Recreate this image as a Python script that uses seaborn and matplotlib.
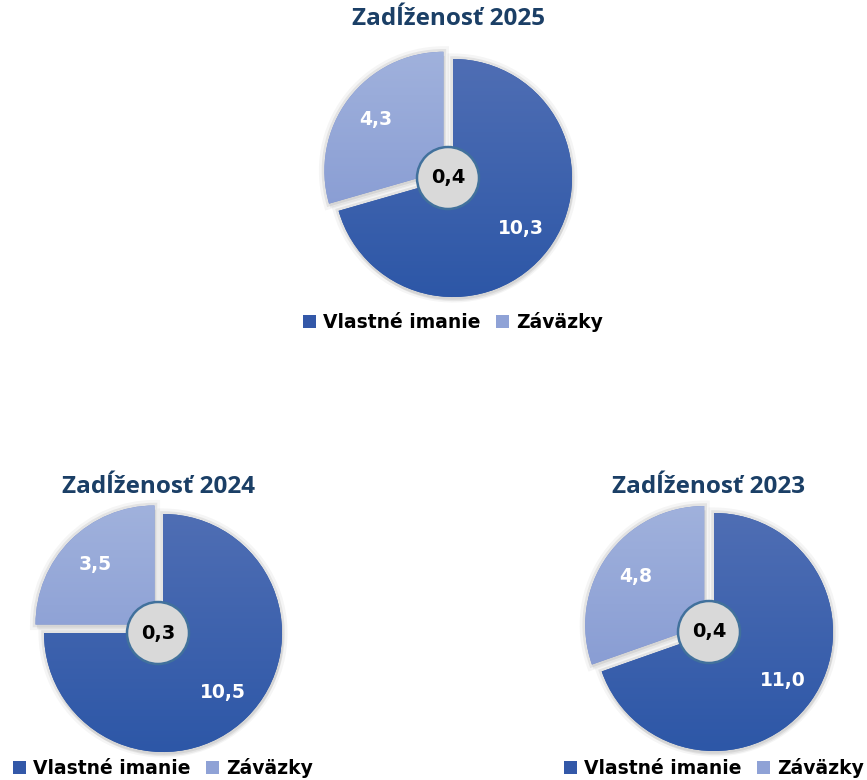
import numpy as np
import matplotlib
matplotlib.use("Agg")
import matplotlib.pyplot as plt
import matplotlib.patheffects as pe
from matplotlib.colors import LinearSegmentedColormap
from matplotlib.patches import Patch, Circle
import seaborn as sns

# ---- data ----
years = ["2025", "2024", "2023"]
equity = [10.3, 10.5, 11.0]
liabilities = [4.3, 3.5, 4.8]
categories = ["Vlastné imanie", "Záväzky"]
title_prefix = "Zadĺženosť"

# ---- style ----
sns.set_theme(style="white")
plt.rcParams["font.family"] = ["DejaVu Sans"]
plt.rcParams["text.color"] = "black"

W, H = 867, 780
fig = plt.figure(figsize=(W / 100, H / 100), dpi=100)
ax = fig.add_axes([0, 0, 1, 1])

dark_top, dark_bot = "#5270B5", "#2A55A6"
light_top, light_bot = "#A2B3DD", "#7A90CE"
legend_cols = ["#3358A8", "#8FA2D6"]
title_col = "#1B3F66"

R = 119
centers = [(453, 178), (163, 633), (714, 632)]
legend_y = [322, 768, 768]
title_y = [19, 487, 487]
explode_px = 12

def fmt(v):
    return f"{v:.1f}".replace(".", ",")

for yr, eq, li, (cxp, cyp), ly, ty in zip(years, equity, liabilities, centers,
                                          legend_y, title_y):
    cx, cy = cxp, H - cyp
    vals = [eq, li]
    total = sum(vals)
    wedges, texts, autotexts = ax.pie(
        vals, center=(cx, cy), radius=R, startangle=90, counterclock=False,
        explode=[0, explode_px], colors=[dark_bot, light_bot],
        autopct=lambda p, t=total: fmt(p * t / 100), pctdistance=0.71,
        textprops=dict(color="white", fontsize=13.5, fontweight="bold"),
        wedgeprops=dict(linewidth=0), frame=True)
    grads = [(dark_top, dark_bot), (light_top, light_bot)]
    for w, (ct, cb) in zip(wedges, grads):
        w.set_path_effects([
            pe.SimplePatchShadow(offset=(1, -3), shadow_rgbFace="#000000", alpha=0.06),
            pe.Stroke(linewidth=8, foreground="#000000", alpha=0.04),
            pe.Stroke(linewidth=4, foreground="#000000", alpha=0.07),
            pe.Normal()])
        cmap = LinearSegmentedColormap.from_list("g", [ct, cb])
        grad = np.linspace(0, 1, 256).reshape(-1, 1)
        im = ax.imshow(grad, cmap=cmap, aspect="auto",
                       extent=[cx - R - 20, cx + R + 20, cy - R - 20, cy + R + 20],
                       zorder=w.get_zorder() + 0.5)
        im.set_clip_path(w)
    for t in autotexts:
        t.set_zorder(5)
    # centre circle with ratio
    circ = Circle((cx - 5, cy), 31, facecolor="#D9D9D9", edgecolor="#41719C",
                  linewidth=1.8, zorder=6)
    ax.add_patch(circ)
    ax.text(cx - 5, cy, fmt(li / eq), ha="center", va="center", fontsize=14,
            fontweight="bold", color="black", zorder=7)
    # title
    ax.text(cx - 5, H - ty, f"{title_prefix} {yr}", ha="center", va="center",
            fontsize=17.5, fontweight="bold", color=title_col,
            family=["Open Sans", "DejaVu Sans"])
    # legend
    handles = [Patch(facecolor=c, edgecolor="none") for c in legend_cols]
    leg = fig.legend(handles, categories, loc="center", ncol=2,
                     bbox_to_anchor=(cx / W, 1 - ly / H), frameon=False,
                     prop=dict(size=13.5, weight="bold"),
                     handlelength=0.7, handleheight=0.7,
                     handletextpad=0.4, columnspacing=0.8, borderpad=0)
    for t in leg.get_texts():
        t.set_color("black")

ax.set_xlim(0, W)
ax.set_ylim(0, H)
ax.set_aspect("equal")
ax.axis("off")

fig.savefig("out.png", dpi=100, facecolor="white")
